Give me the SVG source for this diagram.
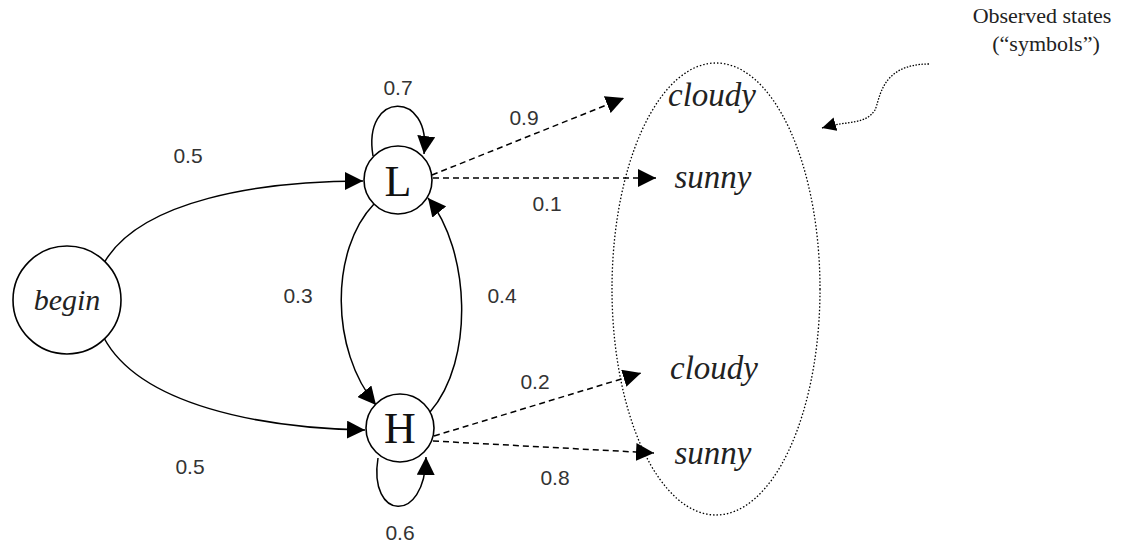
<svg xmlns="http://www.w3.org/2000/svg" width="1139" height="546" viewBox="0 0 1139 546">
<style>
.node{fill:#fff;stroke:#000;stroke-width:1.6}
.e{fill:none;stroke:#000;stroke-width:1.5}
.d{fill:none;stroke:#000;stroke-width:1.5;stroke-dasharray:6,4}
.p{font-family:"Liberation Sans",Arial,sans-serif;font-size:21px;fill:#333;text-anchor:middle}
.s{font-family:"Liberation Serif","Times New Roman",serif;font-style:italic;font-size:33px;fill:#222;text-anchor:middle}
.n{font-family:"Liberation Serif","Times New Roman",serif;font-size:44px;fill:#111;text-anchor:middle}
.o{font-family:"Liberation Serif","Times New Roman",serif;font-size:22px;fill:#222;text-anchor:middle}
</style>
<defs>
<marker id="a" viewBox="0 0 10 10" refX="10" refY="5" markerWidth="14" markerHeight="14" markerUnits="userSpaceOnUse" orient="auto"><path d="M0,0 L10,5 L0,10 z" fill="#000"/></marker>
<marker id="b" viewBox="0 0 10 10" refX="10" refY="5" markerWidth="18" markerHeight="18" markerUnits="userSpaceOnUse" orient="auto"><path d="M0,0 L10,5 L0,10 z" fill="#000"/></marker>
</defs>
<g id="observed">
<ellipse cx="716" cy="289" rx="104" ry="226" fill="none" stroke="#000" stroke-width="1.3" stroke-dasharray="1.5,2"/>
</g>
<g id="connectors">
<path class="e" d="M104,263 C140,200 260,181 363,181" marker-end="url(#b)"/>
<path class="e" d="M104,338 C140,405 260,428 365,430" marker-end="url(#b)"/>
<path class="e" d="M373,156 C362,90 432,90 424,154" marker-end="url(#b)"/>
<path class="e" d="M378,458 C368,520 425,525 426,457" marker-end="url(#b)"/>
<path class="e" d="M374,204 C330,250 330,350 376,405" marker-end="url(#b)"/>
<path class="e" d="M430,412 C475,360 470,250 428,198" marker-end="url(#b)"/>
<path class="d" d="M432,175 L624,98" marker-end="url(#b)"/>
<path class="d" d="M433,178 L656,178" marker-end="url(#b)"/>
<path class="d" d="M434,436 L641,373" marker-end="url(#b)"/>
<path class="d" d="M433,441 L654,453" marker-end="url(#b)"/>
<path fill="none" stroke="#000" stroke-width="1.3" stroke-dasharray="1.5,1.5" d="M929,64 C880,64 880,100 875,110 C865,125 850,120 822,128" marker-end="url(#a)"/>
</g>
<g id="begin">
<circle class="node" cx="67" cy="300" r="54"/>
<text class="s" x="67" y="310" style="font-size:30px">begin</text>
</g>
<g id="L">
<circle class="node" cx="398" cy="180" r="34"/>
<text class="n" x="398" y="196">L</text>
</g>
<g id="H">
<circle class="node" cx="400" cy="428" r="34"/>
<text class="n" x="400" y="443">H</text>
</g>
<g id="labels">
<text class="p" x="398" y="95">0.7</text>
<text class="p" x="188" y="163">0.5</text>
<text class="p" x="190" y="474">0.5</text>
<text class="p" x="298" y="303">0.3</text>
<text class="p" x="502" y="303">0.4</text>
<text class="p" x="400" y="540">0.6</text>
<text class="p" x="524" y="125">0.9</text>
<text class="p" x="547" y="211">0.1</text>
<text class="p" x="535" y="389">0.2</text>
<text class="p" x="555" y="485">0.8</text>
</g>
<g id="symbols">
<text class="s" x="712" y="106">cloudy</text>
<text class="s" x="713" y="188">sunny</text>
<text class="s" x="714" y="379">cloudy</text>
<text class="s" x="713" y="464">sunny</text>
</g>
<g id="note">
<text class="o" x="1042" y="23">Observed states</text>
<text class="o" x="1046" y="51">(“symbols”)</text>
</g>
</svg>
